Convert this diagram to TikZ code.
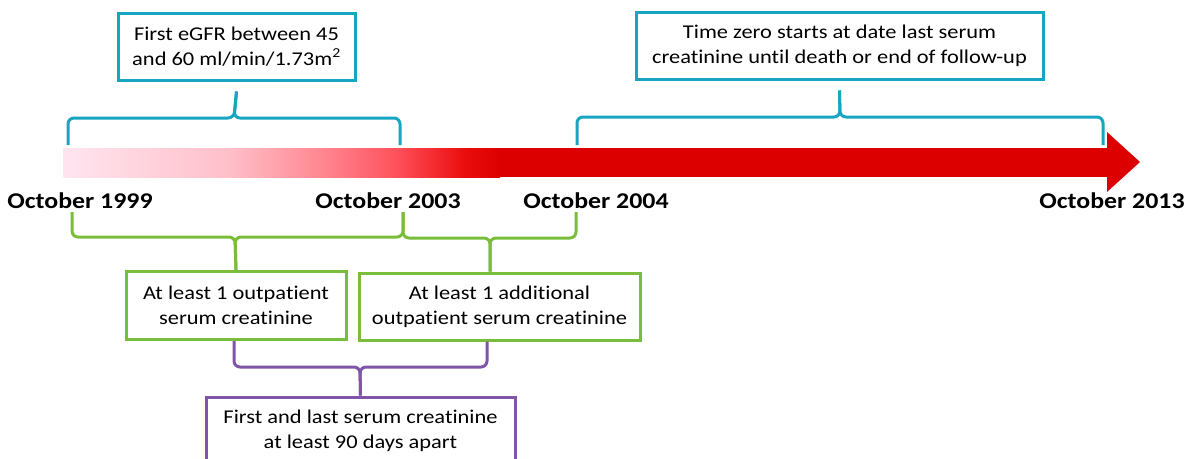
\documentclass[tikz,border=0pt]{standalone}
\usepackage{fontspec}
\setmainfont[FakeStretch=1.15, Ligatures=NoCommon]{Carlito}
\usepackage{tikz}
\usetikzlibrary{positioning,calc}
\usepackage{xcolor}

\definecolor{briefcyan}{RGB}{23,165,194}
\definecolor{briefgreen}{RGB}{122,189,58}
\definecolor{briefpurple}{RGB}{128,84,168}
\definecolor{barred}{RGB}{220,0,0}

\pgfdeclarehorizontalshading{barfade}{100bp}{
  rgb(0bp)=(1,0.90,0.94);
  rgb(25bp)=(1,0.90,0.94);
  rgb(44bp)=(1,0.75,0.79);
  rgb(55bp)=(1,0.52,0.56);
  rgb(63bp)=(1,0.32,0.36);
  rgb(71bp)=(0.92,0.05,0.05);
  rgb(75bp)=(0.86,0,0);
  rgb(100bp)=(0.86,0,0)}

\begin{document}
\begin{tikzpicture}[
    x=1pt, y=-1pt,
    box/.style={rectangle, draw, line width=3pt, fill=white, align=center,
                inner sep=0pt, font=\fontsize{19.5}{25}\selectfont},
    date/.style={anchor=base, inner sep=0pt,
                 font=\fontsize{22.5}{26}\selectfont\bfseries},
    brace/.style={line width=3pt, rounded corners=6pt}
  ]
  \useasboundingbox (0,0) rectangle (1188,458);

  % Timeline arrow
  \shade[shading=barfade] (63,148) rectangle (500,177);
  \fill[barred] (499,148) rectangle (1108,177);
  \fill[barred] (1107,132) -- (1140,162) -- (1107,192) -- cycle;

  % Dates
  \node[date] (d1999) at (80,208) {October 1999};
  \node[date] (d2003) at (388,208) {October 2003};
  \node[date] (d2004) at (596,208) {October 2004};
  \node[date] (d2013) at (1112,208) {October 2013};

  % Tick points above and below the timeline
  \coordinate (up1999) at (68,145);
  \coordinate (up2003) at (400,145);
  \coordinate (up2004) at (577,145);
  \coordinate (up2013) at (1103,145);
  \coordinate (lo1999) at (72,212);
  \coordinate (lo2003) at (403,212);
  \coordinate (lo2004) at (576,212);

  % Boxes
  \node[box, draw=briefcyan, minimum width=237pt, minimum height=67pt]
    (egfr) at (236.5,46.5) {First eGFR between 45\\and 60 ml/min/1.73m\textsuperscript{2}};
  \node[box, draw=briefcyan, minimum width=407pt, minimum height=67pt]
    (timezero) at (839.5,45.5) {Time zero starts at date last serum\\creatinine until death or end of follow-up};
  \node[box, draw=briefgreen, minimum width=220pt, minimum height=68pt]
    (first_scr) at (236,305.5) {At least 1 outpatient\\serum creatinine};
  \node[box, draw=briefgreen, minimum width=281pt, minimum height=67pt]
    (second_scr) at (499.5,306.5) {At least 1 additional\\outpatient serum creatinine};
  \node[box, draw=briefpurple, minimum width=309pt, minimum height=68pt]
    (apart) at (360.5,431) {First and last serum creatinine\\at least 90 days apart};

  % Cyan braces above the timeline
  \draw[brace, briefcyan] (up1999) |- (234,118) -- ([yshift=-10pt]egfr.south);
  \draw[brace, briefcyan] (up2003) |- (234,118) -- ([yshift=-10pt]egfr.south);
  \draw[brace, briefcyan] (up2004) |- (840,117) -- ([yshift=-10pt]timezero.south);
  \draw[brace, briefcyan] (up2013) |- (840,117) -- ([yshift=-10pt]timezero.south);

  % Green braces below the timeline
  \draw[brace, briefgreen] (lo1999) |- (235,237) -- (first_scr.north);
  \draw[brace, briefgreen] (lo2003) |- (235,237) -- (first_scr.north);
  \draw[brace, briefgreen] (lo2003) |- (490,238) -- (second_scr.north -| 490,0);
  \draw[brace, briefgreen] (lo2004) |- (490,238) -- (second_scr.north -| 490,0);

  % Purple brace
  \draw[brace, briefpurple] (first_scr.south -| 234,0) |- (360,367) -- (apart.north);
  \draw[brace, briefpurple] (second_scr.south -| 487,0) |- (360,367) -- (apart.north);

\end{tikzpicture}
\end{document}
